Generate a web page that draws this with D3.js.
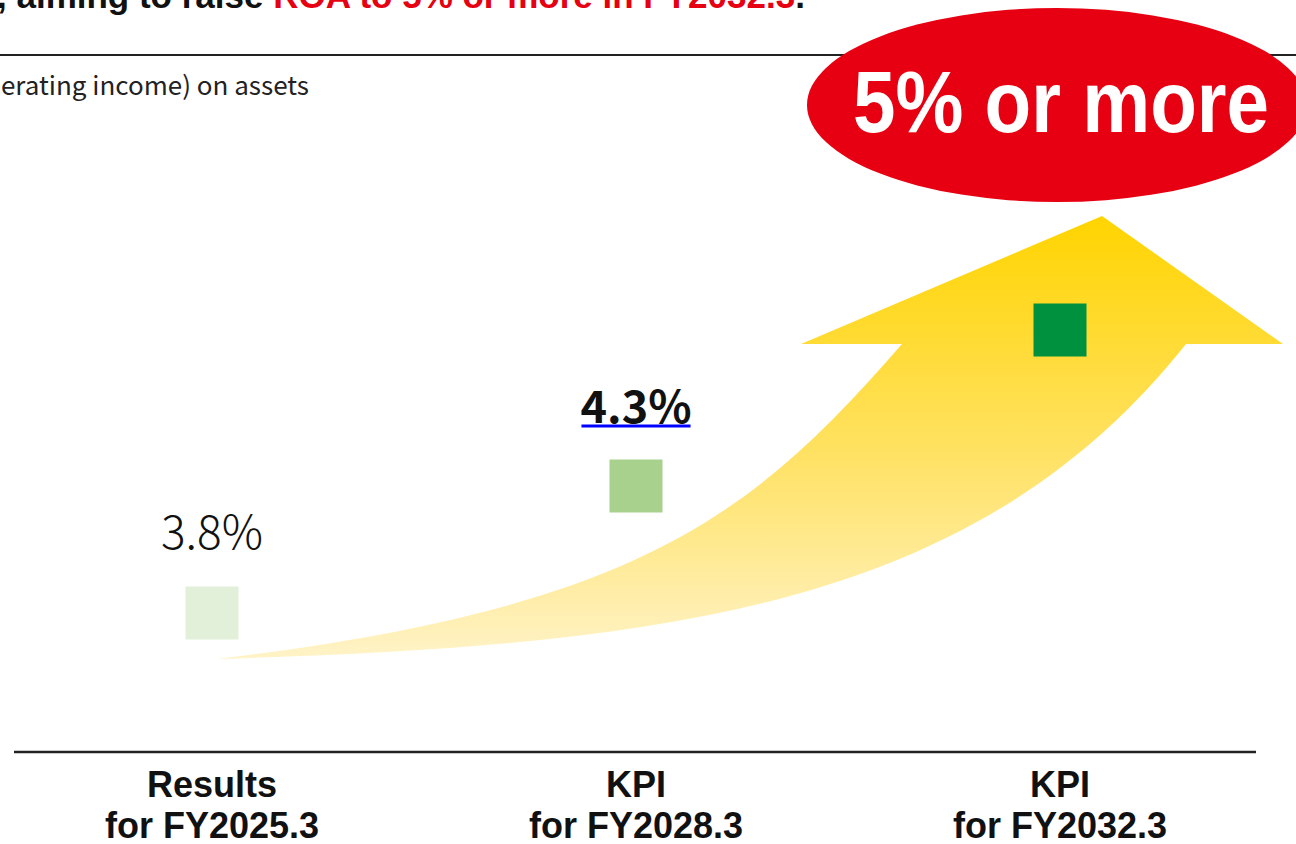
<!DOCTYPE html>
<html>
<head>
<meta charset="utf-8">
<script src="https://cdn.jsdelivr.net/npm/d3@7"></script>
<style>
  html, body { margin: 0; padding: 0; background: #fff; overflow: hidden; }
  svg { display: block; }
</style>
</head>
<body>
<div class="roa-chart-div"></div>
<script>
// values
const catTop = ["Results", "KPI", "KPI"];
const catBottom = ["for FY2025.3", "for FY2028.3", "for FY2032.3"];
const roaValues = [3.8, 4.3, 5.0];
const roaLabels = ["3.8%", "4.3%", "5% or more"];

const width = 1296;
const height = 844;

const svg = d3.select(".roa-chart-div").append("svg")
  .attr("width", width)
  .attr("height", height);

const x = d3.scaleBand()
  .domain(catTop.map((d, i) => i))
  .range([0, 1272]);

// schematic value axis (the slide is not to scale)
const y = d3.scaleLinear()
  .domain([3.8, 4.3, 5.0])
  .range([613, 486, 330]);

const cx = i => x(i) + x.bandwidth() / 2;

const squareFill = ["#e2f0d9", "#a9d18e", "#00913f"];
const side = 53;

// title strip (cut at the top of the crop)
const title = svg.append("text")
  .attr("x", -3)
  .attr("y", 8)
  .style("font-family", "'Liberation Sans', Arial, sans-serif")
  .style("font-weight", "bold")
  .style("font-size", "35px")
  .style("fill", "#111");
title.append("tspan").text(", aiming to raise ");
title.append("tspan").style("fill", "#e60012").text("ROA to 5% or more in FY2032.3");
title.append("tspan").text(".");

svg.append("line")
  .attr("x1", 0).attr("x2", width)
  .attr("y1", 55).attr("y2", 55)
  .style("stroke", "#222")
  .style("stroke-width", 2);

svg.append("text")
  .attr("x", 309)
  .attr("y", 95)
  .style("text-anchor", "end")
  .style("font-family", "'Noto Sans CJK JP', 'Noto Sans', sans-serif")
  .style("font-size", "26px")
  .style("fill", "#222")
  .text("ROA (operating income) on assets");

// rising arrow
const defs = svg.append("defs");
const grad = defs.append("linearGradient")
  .attr("id", "arrowGrad")
  .attr("gradientUnits", "userSpaceOnUse")
  .attr("x1", 0).attr("x2", 0)
  .attr("y1", 216).attr("y2", 660);
grad.append("stop").attr("offset", 0).attr("stop-color", "#ffd400");
grad.append("stop").attr("offset", 0.55).attr("stop-color", "#ffe266");
grad.append("stop").attr("offset", 1).attr("stop-color", "#fff3c8");

const ap = d3.path();
ap.moveTo(217, 659);
ap.bezierCurveTo(637, 608.6, 752, 516.5, 902, 344);   // upper edge of the shaft
ap.lineTo(801, 344);
ap.lineTo(1102, 216);                                 // tip
ap.lineTo(1283, 344);
ap.lineTo(1186, 344);
ap.bezierCurveTo(976, 608.6, 667, 645.5, 217, 659);   // lower edge back to the tail
ap.closePath();

svg.append("path")
  .attr("d", ap.toString())
  .style("fill", "url(#arrowGrad)");

// squares
svg.selectAll("rect.mark")
  .data(roaValues)
  .enter()
  .append("rect")
  .attr("class", "mark")
  .attr("x", (d, i) => cx(i) - side / 2)
  .attr("y", d => y(d) - side / 2)
  .attr("width", side)
  .attr("height", side)
  .style("fill", (d, i) => squareFill[i]);

// value labels
svg.append("text")
  .attr("x", cx(0))
  .attr("y", y(roaValues[0]) - 64)
  .style("text-anchor", "middle")
  .style("font-family", "'Noto Sans CJK JP', 'Noto Sans', sans-serif")
  .style("font-weight", 300)
  .style("font-size", "46px")
  .style("fill", "#111")
  .text(roaLabels[0]);

const lbl2 = svg.append("text")
  .attr("x", cx(1))
  .attr("y", y(roaValues[1]) - 63)
  .style("text-anchor", "middle")
  .style("font-family", "'Noto Sans CJK JP', 'Noto Sans', sans-serif")
  .style("font-weight", "bold")
  .style("font-size", "45px")
  .style("fill", "#111")
  .text(roaLabels[1]);
const bb = lbl2.node().getBBox();
svg.append("line")
  .attr("x1", bb.x + 1).attr("x2", bb.x + bb.width - 1)
  .attr("y1", y(roaValues[1]) - 60).attr("y2", y(roaValues[1]) - 60)
  .style("stroke", "#0000ff")
  .style("stroke-width", 3);

// red badge
svg.append("ellipse")
  .attr("cx", 1057)
  .attr("cy", 105)
  .attr("rx", 250)
  .attr("ry", 97)
  .style("fill", "#e60012");

svg.append("text")
  .attr("x", 1061)
  .attr("y", 132)
  .style("text-anchor", "middle")
  .style("font-family", "'Liberation Sans', Arial, sans-serif")
  .style("font-weight", "bold")
  .style("font-size", "88px")
  .attr("textLength", 416)
  .attr("lengthAdjust", "spacingAndGlyphs")
  .style("fill", "#fff")
  .text(roaLabels[2]);

// category axis
svg.append("line")
  .attr("x1", 14).attr("x2", 1256)
  .attr("y1", 752).attr("y2", 752)
  .style("stroke", "#222")
  .style("stroke-width", 2.5);

const cat = svg.selectAll("text.cat")
  .data(catTop)
  .enter()
  .append("text")
  .attr("class", "cat")
  .attr("x", (d, i) => cx(i))
  .attr("y", 797)
  .style("text-anchor", "middle")
  .style("font-family", "'Liberation Sans', Arial, sans-serif")
  .style("font-weight", "bold")
  .style("font-size", "36px")
  .style("fill", "#111");
cat.append("tspan").text(d => d);
cat.append("tspan")
  .attr("x", (d, i) => cx(i))
  .attr("dy", 41)
  .text((d, i) => catBottom[i]);
</script>
</body>
</html>
